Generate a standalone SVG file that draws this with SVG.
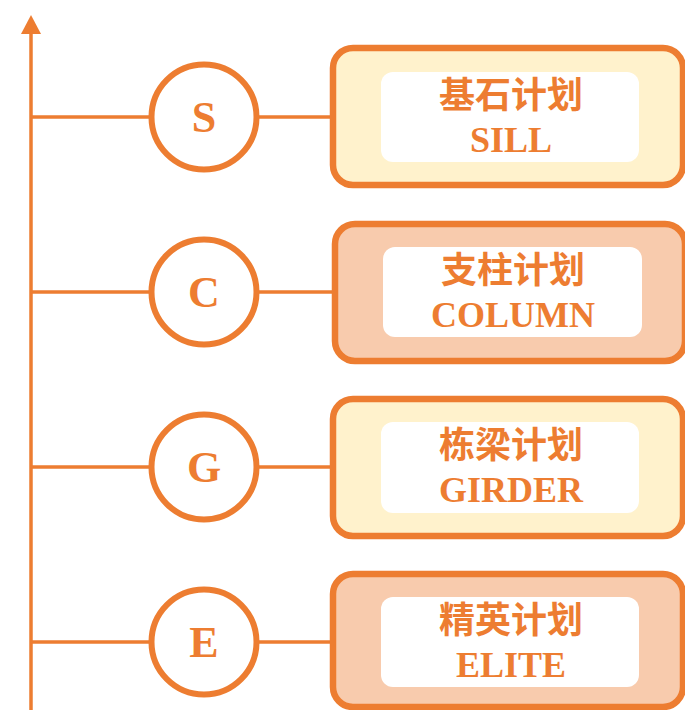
<svg xmlns="http://www.w3.org/2000/svg" width="685" height="710" viewBox="0 0 685 710">
<style>
.ln{stroke:#ED7D31;stroke-width:3.5;fill:none}
.circ{fill:#FFFFFF;stroke:#ED7D31;stroke-width:6}
.box{stroke:#ED7D31;stroke-width:6.5}
.y{fill:#FFF2CC}
.p{fill:#F8CBAD}
.inner{fill:#FFFFFF}
.let{font-family:"Liberation Serif",serif;font-weight:bold;font-size:44px;fill:#ED7D31;text-anchor:middle}
.cn{font-family:"Noto Sans CJK SC","Noto Sans",sans-serif;font-weight:bold;font-size:36px;fill:#ED7D31;text-anchor:middle}
.en{font-family:"Liberation Serif",serif;font-weight:bold;font-size:36px;fill:#ED7D31;text-anchor:middle}
</style>
<g id="connectors">
<line class="ln" x1="31" y1="32" x2="31" y2="710"/>
<polygon points="31,15 21,34 41,34" fill="#ED7D31"/>
<line class="ln" x1="31" y1="117" x2="150" y2="117"/>
<line class="ln" x1="258" y1="117" x2="333" y2="117"/>
<line class="ln" x1="31" y1="292" x2="150" y2="292"/>
<line class="ln" x1="258" y1="292" x2="335" y2="292"/>
<line class="ln" x1="31" y1="467" x2="150" y2="467"/>
<line class="ln" x1="258" y1="467" x2="333" y2="467"/>
<line class="ln" x1="31" y1="642" x2="150" y2="642"/>
<line class="ln" x1="258" y1="642" x2="333" y2="642"/>
</g>
<g id="circle-S">
<circle class="circ" cx="204" cy="117" r="52.5"/>
<text class="let" x="204" y="132">S</text>
</g>
<g id="circle-C">
<circle class="circ" cx="204" cy="292" r="52.5"/>
<text class="let" x="204" y="307">C</text>
</g>
<g id="circle-G">
<circle class="circ" cx="204" cy="467" r="52.5"/>
<text class="let" x="204" y="482">G</text>
</g>
<g id="circle-E">
<circle class="circ" cx="204" cy="642" r="52.5"/>
<text class="let" x="204" y="657">E</text>
</g>
<g id="box-sill">
<rect class="box y" x="333" y="48" width="350" height="137" rx="20"/>
<rect class="inner" x="381" y="72" width="258" height="90" rx="12"/>
<text class="cn" x="511" y="108">基石计划</text>
<text class="en" x="511" y="152">SILL</text>
</g>
<g id="box-column">
<rect class="box p" x="335" y="224" width="350" height="137" rx="20"/>
<rect class="inner" x="383" y="247" width="259" height="90" rx="12"/>
<text class="cn" x="513" y="283">支柱计划</text>
<text class="en" x="513" y="327">COLUMN</text>
</g>
<g id="box-girder">
<rect class="box y" x="333" y="399" width="350" height="137" rx="20"/>
<rect class="inner" x="381" y="422" width="258" height="91" rx="12"/>
<text class="cn" x="511" y="458">栋梁计划</text>
<text class="en" x="511" y="502">GIRDER</text>
</g>
<g id="box-elite">
<rect class="box p" x="333" y="574" width="350" height="133" rx="20"/>
<rect class="inner" x="381" y="597" width="258" height="90" rx="12"/>
<text class="cn" x="511" y="633">精英计划</text>
<text class="en" x="511" y="677">ELITE</text>
</g>
</svg>
